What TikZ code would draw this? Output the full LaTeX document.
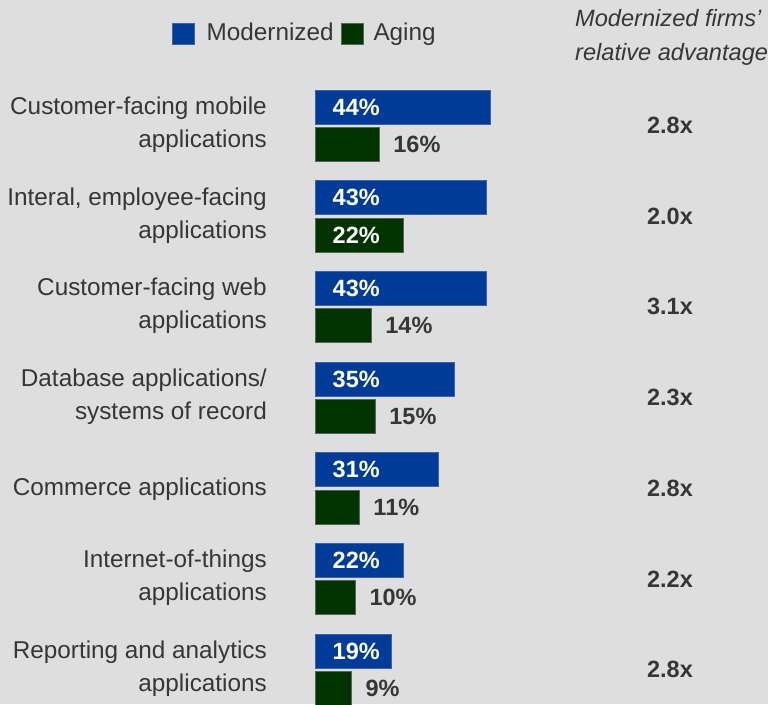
\documentclass[tikz,border=0pt]{standalone}
\usepackage{fontspec}
\setmainfont{Liberation Sans}
\definecolor{bg}{HTML}{DEDEDE}
\definecolor{modblue}{HTML}{003C97}
\definecolor{modblueedge}{HTML}{3D62A8}
\definecolor{aggreen}{HTML}{003300}
\definecolor{aggreenedge}{HTML}{56655A}
\definecolor{txt}{HTML}{363636}
\begin{document}
\begin{tikzpicture}[x=1pt,y=-1pt,
  lbl/.style={font=\fontsize{24.3}{28}\selectfont, text=txt, inner sep=0pt},
  hdr/.style={font=\fontsize{23.6}{28}\selectfont\itshape, text=txt, inner sep=0pt, anchor=base west},
  val/.style={font=\fontsize{23.5}{28}\selectfont\bfseries, inner sep=0pt},
  bluebar/.style={fill=modblue, draw=modblueedge, line width=0.8pt, inner sep=0pt, outer sep=0pt, anchor=north west, minimum height=34pt},
  greenbar/.style={fill=aggreen, draw=aggreenedge, line width=0.8pt, inner sep=0pt, outer sep=0pt, anchor=north west, minimum height=34pt},
  legbox/.style={inner sep=0pt, minimum size=21.5pt, anchor=north west}]
\fill[bg] (0,0) rectangle (768,704);
\useasboundingbox (0,0) rectangle (768,704);

% legend
\node[legbox, fill=modblue, draw=modblueedge, line width=0.8pt] (legb) at (172,22.5) {};
\node[lbl, anchor=base west] (legbt) at (206.5,40) {Modernized};
\node[legbox, fill=aggreen, draw=aggreenedge, line width=0.8pt] (legg) at (341.3,22.5) {};
\node[lbl, anchor=base west] (leggt) at (373.3,40) {Aging};

% header
\node[hdr] (h1) at (575,27) {Modernized firms’};
\node[hdr] (h2) at (575,60) {relative advantage};

% category labels
\node[lbl, anchor=base east] (c0a) at (267,114.5) {Customer-facing mobile};
\node[lbl, anchor=base east] (c0b) at (267,147.5) {applications};
\node[lbl, anchor=base east] (c1a) at (267,205.2) {Interal, employee-facing};
\node[lbl, anchor=base east] (c1b) at (267,238.2) {applications};
\node[lbl, anchor=base east] (c2a) at (267,295.8) {Customer-facing web};
\node[lbl, anchor=base east] (c2b) at (267,328.8) {applications};
\node[lbl, anchor=base east] (c3a) at (267,386.5) {Database applications/};
\node[lbl, anchor=base east] (c3b) at (267,419.5) {systems of record};
\node[lbl, anchor=base east] (c4a) at (267,495) {Commerce applications};
\node[lbl, anchor=base east] (c5a) at (267,567.8) {Internet-of-things};
\node[lbl, anchor=base east] (c5b) at (267,600.8) {applications};
\node[lbl, anchor=base east] (c6a) at (267,658.5) {Reporting and analytics};
\node[lbl, anchor=base east] (c6b) at (267,691.5) {applications};

% bars
\foreach \bv/\gv/\rr [count=\i from 0] in {44/16/2.8x, 43/22/2.0x, 43/14/3.1x, 35/15/2.3x, 31/11/2.8x, 22/10/2.2x, 19/9/2.8x}{
  \pgfmathsetmacro\rowtop{90+90.67*\i}
  \pgfmathsetmacro\gtop{\rowtop+37.3}
  \node[bluebar, minimum width={\bv*3.98pt}] (b\i) at (315.5,\rowtop) {};
  \node[greenbar, minimum width={\gv*3.98pt}] (g\i) at (315.5,\gtop) {};
  \node[val, text=white, anchor=west] (bl\i) at (332.5,{\rowtop+17}) {\bv\%};
  \ifnum\gv>20
    \node[val, text=white, anchor=west] (gl\i) at (332.5,{\gtop+17}) {\gv\%};
  \else
    \node[val, text=txt, anchor=west] (gl\i) at ({315.5+\gv*3.98+14},{\gtop+17}) {\gv\%};
  \fi
  \node[val, text=txt] (r\i) at (670,{\rowtop+35.5}) {\rr};
}
\end{tikzpicture}
\end{document}
